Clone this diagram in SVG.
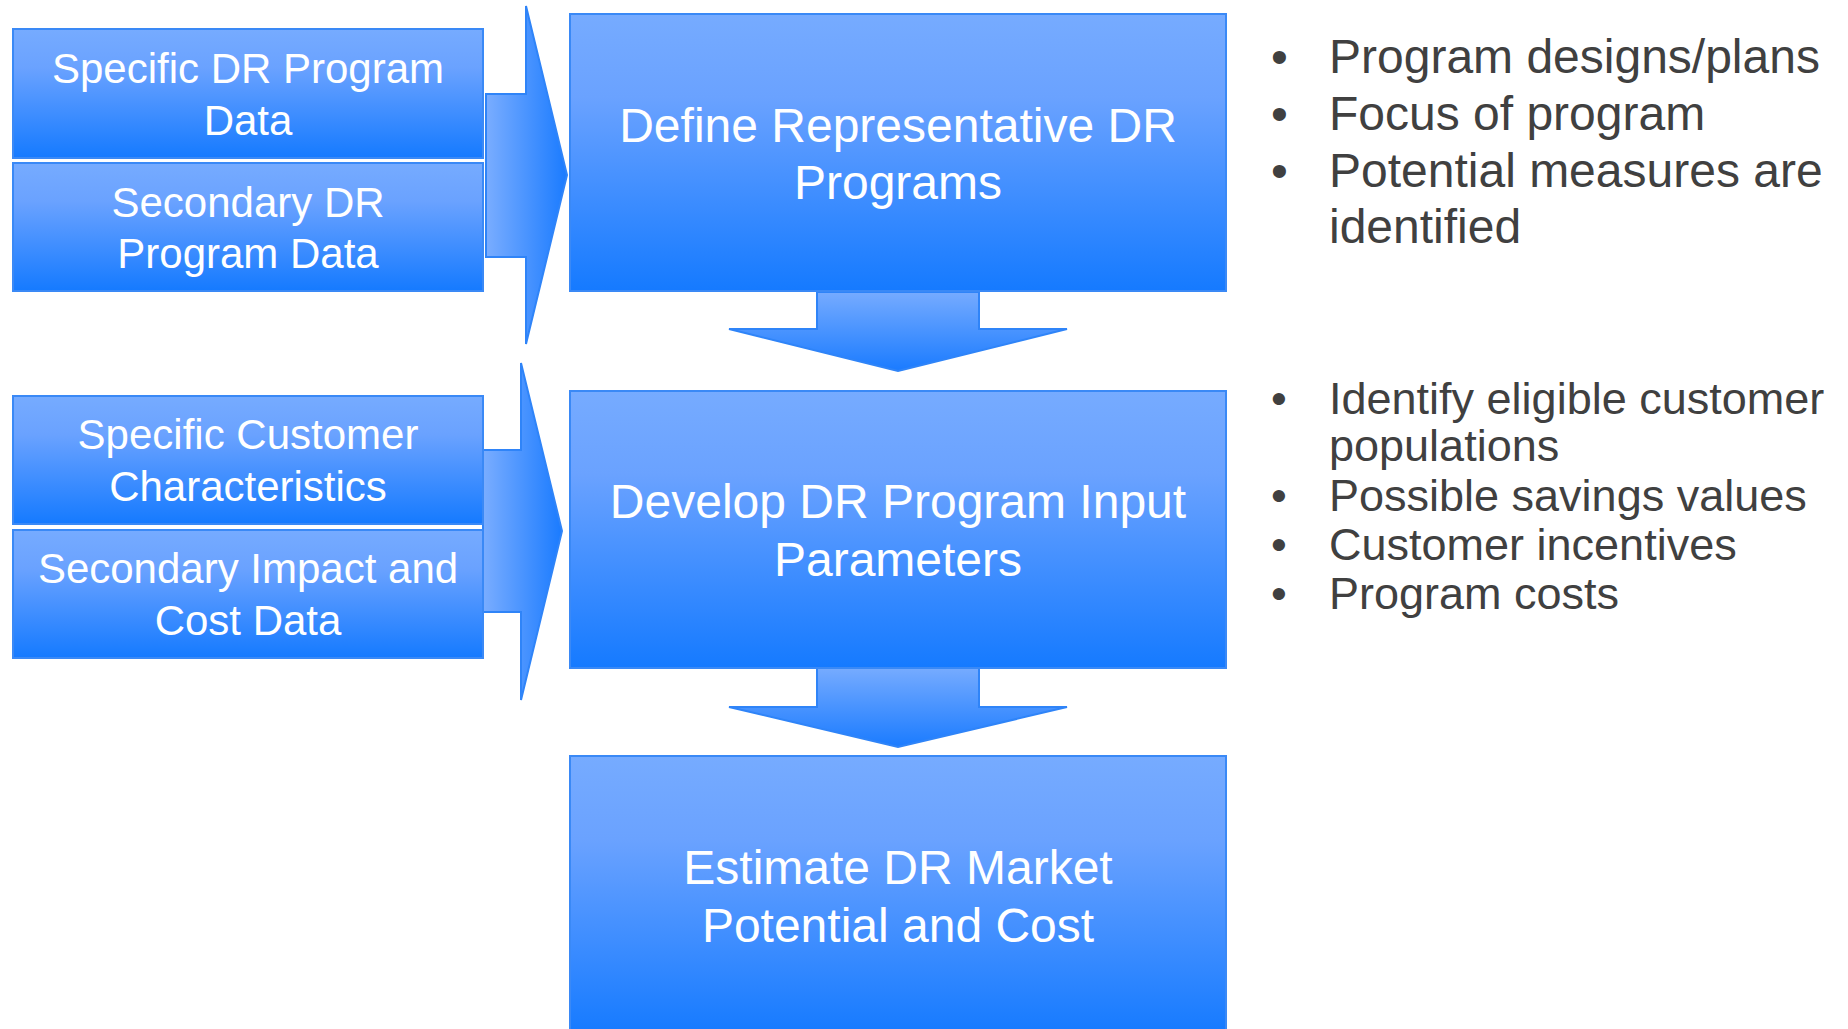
<svg xmlns="http://www.w3.org/2000/svg" width="1848" height="1029" viewBox="0 0 1848 1029">
  <defs>
    <linearGradient id="boxFill" x1="0" y1="0" x2="0" y2="1">
      <stop offset="0" stop-color="#76abff"/>
      <stop offset="0.3" stop-color="#6aa2ff"/>
      <stop offset="1" stop-color="#157aff"/>
    </linearGradient>
    <linearGradient id="rightFill" x1="0" y1="0" x2="1" y2="0">
      <stop offset="0" stop-color="#7aadff"/>
      <stop offset="1" stop-color="#1a7bff"/>
    </linearGradient>
    <linearGradient id="downFill" x1="0" y1="0" x2="0" y2="1">
      <stop offset="0" stop-color="#76abff"/>
      <stop offset="1" stop-color="#1a7bff"/>
    </linearGradient>
    <style>
      .box { fill: url(#boxFill); stroke: #3a89f6; stroke-width: 2; }
      .arrow-r { fill: url(#rightFill); stroke: #2f84f8; stroke-width: 2; stroke-linejoin: miter; }
      .arrow-d { fill: url(#downFill); stroke: #2f84f8; stroke-width: 2; stroke-linejoin: miter; }
      .small { font-family: "Liberation Sans", Arial, sans-serif; font-size: 42px; fill: #ffffff; text-anchor: middle; }
      .main { font-family: "Liberation Sans", Arial, sans-serif; font-size: 48px; fill: #ffffff; text-anchor: middle; }
      .list1 { font-family: "Liberation Sans", Arial, sans-serif; font-size: 48px; fill: #404040; }
      .list2 { font-family: "Liberation Sans", Arial, sans-serif; font-size: 45px; fill: #404040; }
    </style>
  </defs>

  <rect width="1848" height="1029" fill="#ffffff"/>

  <!-- connectors: block arrows between stages -->
  <g id="connectors">
    <polygon class="arrow-r" points="486,94 526,94 526,6 567,175 526,344 526,257 486,257"/>
    <polygon class="arrow-r" points="483,450 521,450 521,363 562,531 521,700 521,612 483,612"/>
    <polygon class="arrow-d" points="817,292 979,292 979,329 1067,329 898,371 729,329 817,329"/>
    <polygon class="arrow-d" points="817,668 979,668 979,707 1067,707 898,747 729,707 817,707"/>
  </g>

  <!-- input data boxes -->
  <g id="specific-dr-program-data">
    <rect class="box" x="13" y="29" width="470" height="129"/>
    <text class="small" x="248" y="83">Specific DR Program</text>
    <text class="small" x="248" y="135">Data</text>
  </g>
  <g id="secondary-dr-program-data">
    <rect class="box" x="13" y="163" width="470" height="128"/>
    <text class="small" x="248" y="217">Secondary DR</text>
    <text class="small" x="248" y="268">Program Data</text>
  </g>
  <g id="specific-customer-characteristics">
    <rect class="box" x="13" y="396" width="470" height="128"/>
    <text class="small" x="248" y="449">Specific Customer</text>
    <text class="small" x="248" y="501">Characteristics</text>
  </g>
  <g id="secondary-impact-cost-data">
    <rect class="box" x="13" y="530" width="470" height="128"/>
    <text class="small" x="248" y="583">Secondary Impact and</text>
    <text class="small" x="248" y="635">Cost Data</text>
  </g>

  <!-- process stages -->
  <g id="define-programs">
    <rect class="box" x="570" y="14" width="656" height="277"/>
    <text class="main" x="898" y="142">Define Representative DR</text>
    <text class="main" x="898" y="199">Programs</text>
  </g>
  <g id="develop-parameters">
    <rect class="box" x="570" y="391" width="656" height="277"/>
    <text class="main" x="898" y="518">Develop DR Program Input</text>
    <text class="main" x="898" y="576">Parameters</text>
  </g>
  <g id="estimate-potential">
    <rect class="box" x="570" y="756" width="656" height="279"/>
    <text class="main" x="898" y="884">Estimate DR Market</text>
    <text class="main" x="898" y="942">Potential and Cost</text>
  </g>

  <!-- notes beside the stages -->
  <g id="notes-define">
    <text class="list1" x="1271" y="73">•</text>
    <text class="list1" x="1329" y="73">Program designs/plans</text>
    <text class="list1" x="1271" y="130">•</text>
    <text class="list1" x="1329" y="130">Focus of program</text>
    <text class="list1" x="1271" y="187">•</text>
    <text class="list1" x="1329" y="187">Potential measures are</text>
    <text class="list1" x="1329" y="243">identified</text>
  </g>
  <g id="notes-develop">
    <text class="list2" x="1271" y="414">•</text>
    <text class="list2" x="1329" y="414">Identify eligible customer</text>
    <text class="list2" x="1329" y="461">populations</text>
    <text class="list2" x="1271" y="511">•</text>
    <text class="list2" x="1329" y="511">Possible savings values</text>
    <text class="list2" x="1271" y="560">•</text>
    <text class="list2" x="1329" y="560">Customer incentives</text>
    <text class="list2" x="1271" y="609">•</text>
    <text class="list2" x="1329" y="609">Program costs</text>
  </g>
</svg>
